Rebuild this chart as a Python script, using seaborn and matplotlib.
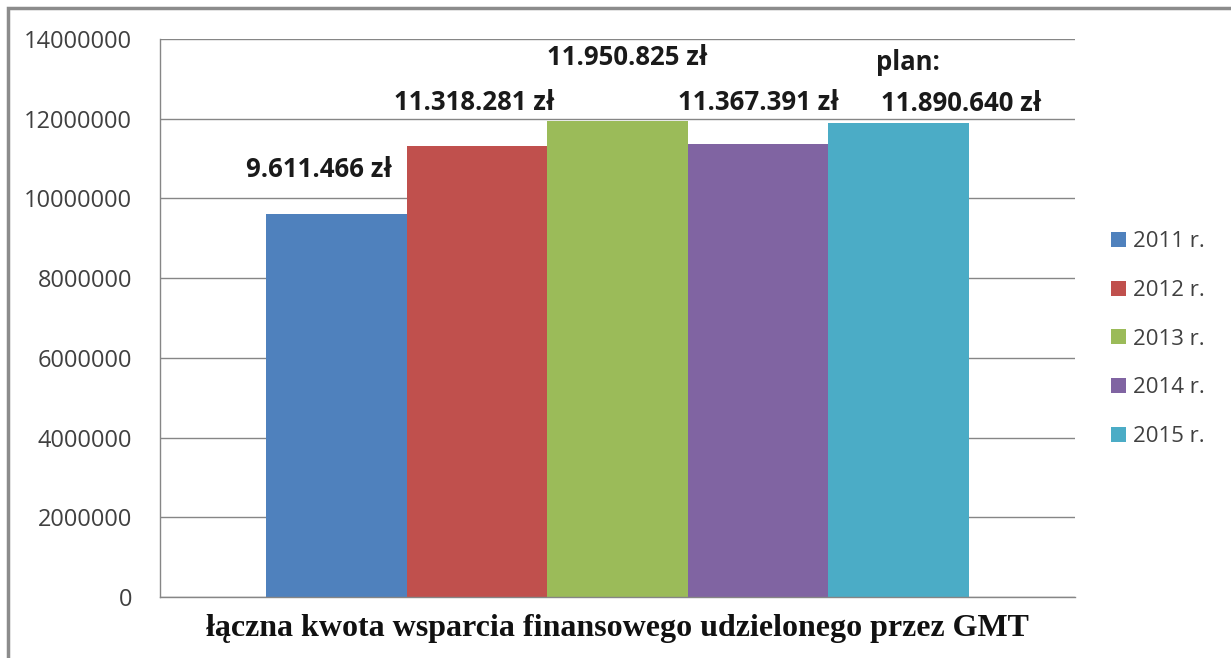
import matplotlib
matplotlib.use("Agg")
import matplotlib.pyplot as plt
from matplotlib.patches import Rectangle
import seaborn as sns
import pandas as pd

# data
category = "łączna kwota wsparcia finansowego udzielonego przez GMT"
years = ["2011 r.", "2012 r.", "2013 r.", "2014 r.", "2015 r."]
amounts = [9611466, 11318281, 11950825, 11367391, 11890640]
colors = ["#4F81BD", "#C0504D", "#9BBB59", "#8064A2", "#4BACC6"]
y_ticks = [0, 2000000, 4000000, 6000000, 8000000, 10000000, 12000000, 14000000]

# label placement (pixel offsets from bar top centre), tuned to the picture
label_offsets = [(-17, 44), (-3, 43), (10, 63), (1, 41), (63, 20)]

df = pd.DataFrame({"kategoria": [category] * len(years), "rok": years, "kwota": amounts})

sns.set_style("white")
plt.rcParams["font.family"] = ["Open Sans", "DejaVu Sans"]

fig = plt.figure(figsize=(12.31, 6.58), dpi=100)
ax = fig.add_axes([0.130, 0.0927, 0.743, 0.848])

sns.barplot(data=df, x="kategoria", y="kwota", hue="rok", palette=colors,
            width=0.768, saturation=1, linewidth=0, edgecolor="none",
            ax=ax, legend=True)

ax.set_xlim(-0.5, 0.5)
ax.set_ylim(0, 14000000)
ax.set_yticks(y_ticks)
ax.set_yticklabels([str(t) for t in y_ticks])
ax.yaxis.grid(True, color="#868686", linewidth=1)
ax.set_axisbelow(True)
ax.tick_params(axis="y", length=10, color="#868686", labelsize=17,
               labelcolor="#404040", pad=10)
ax.set_xticks([-0.5, 0.5], minor=True)
ax.tick_params(axis="x", which="minor", length=8, color="#868686", direction="out")
ax.tick_params(axis="x", which="major", length=0, pad=12)
for lbl in ax.get_xticklabels():
    lbl.set_fontfamily("Liberation Serif")
    lbl.set_fontweight("bold")
    lbl.set_fontsize(23)
    lbl.set_color("#111111")
ax.set_xlabel("")
ax.set_ylabel("")
for side in ["top", "right"]:
    ax.spines[side].set_visible(False)
for side in ["left", "bottom"]:
    ax.spines[side].set_color("#868686")
    ax.spines[side].set_linewidth(1)

bars = [p for p in ax.patches if p.get_height() > 0]
bars.sort(key=lambda p: p.get_x())
for bar, val, (dx, dy) in zip(bars, amounts, label_offsets):
    txt = f"{val:,}".replace(",", ".") + " zł"
    cx = bar.get_x() + bar.get_width() / 2
    ax.annotate(txt, xy=(cx, bar.get_height()), xytext=(dx, dy),
                textcoords="offset pixels", ha="center", va="center",
                fontsize=18.5, fontweight="bold", color="#1a1a1a",
                annotation_clip=False)

last = bars[-1]
ax.annotate("plan:", xy=(last.get_x() + last.get_width() / 2, last.get_height()),
            xytext=(-22, 61), textcoords="offset pixels", ha="left", va="center",
            fontsize=18.5, fontweight="bold", color="#1a1a1a", annotation_clip=False)

leg = ax.legend(loc="center left", bbox_to_anchor=(1.018, 0.462), frameon=False,
                fontsize=16, labelcolor="#404040", handlelength=0.65,
                handleheight=0.65, handletextpad=0.35, labelspacing=1.25)

# outer chart border
fig.patches.append(Rectangle((8 / 1231, -0.1), 1.2, 1.1 - 8 / 658,
                             transform=fig.transFigure, fill=False,
                             edgecolor="#8c8c8c", linewidth=2.5))

fig.savefig("out.png", dpi=100)
